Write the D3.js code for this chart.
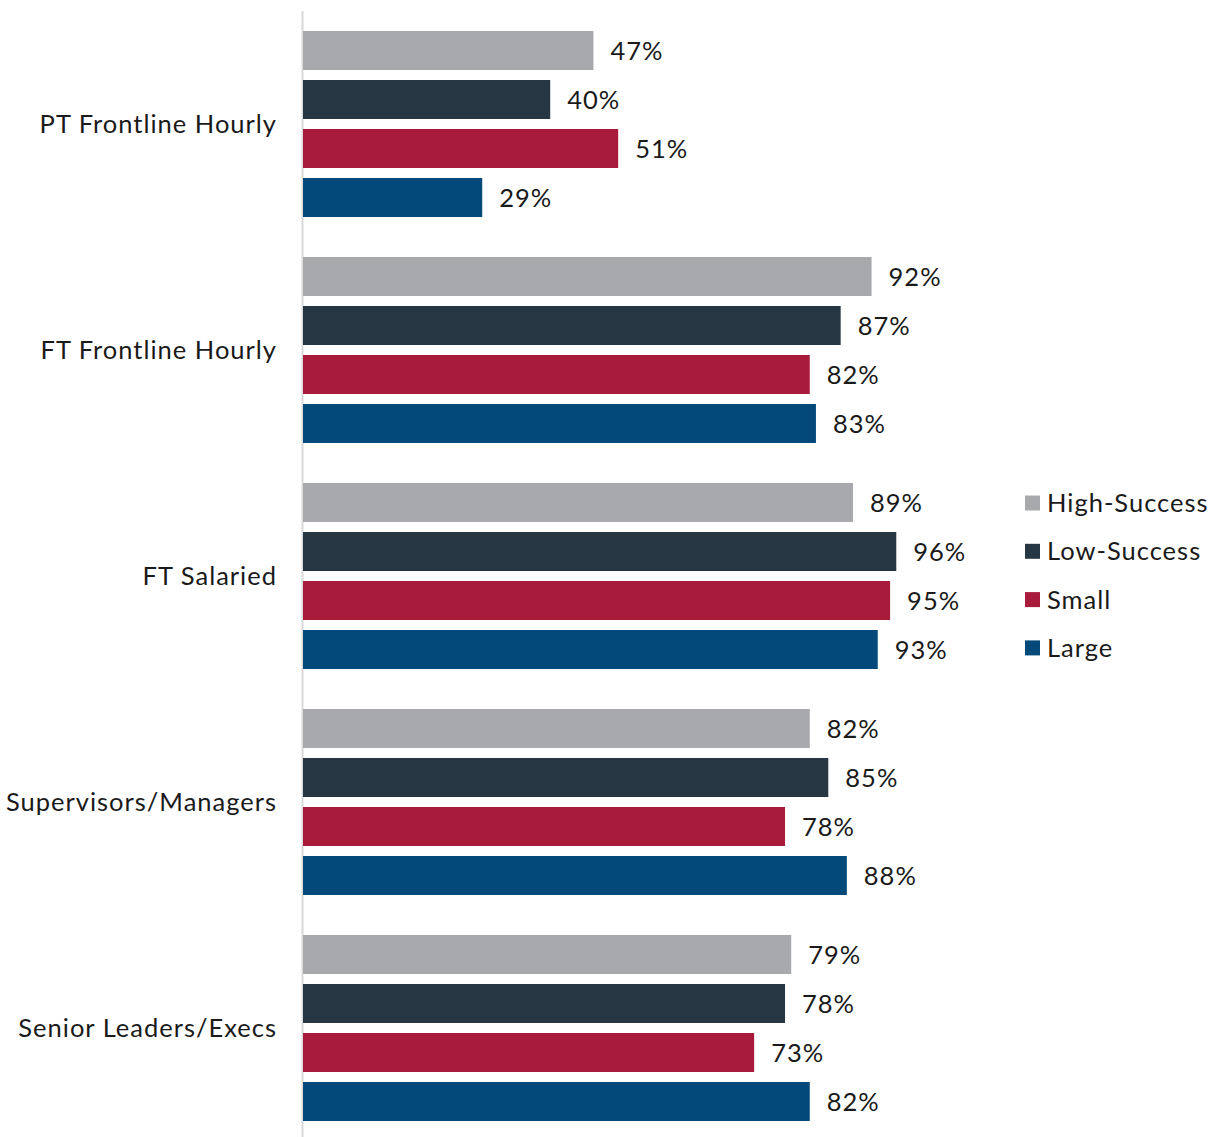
<!DOCTYPE html>
<html>
<head>
<meta charset="utf-8">
<script src="https://cdn.jsdelivr.net/npm/d3@7"></script>
<style>
  body { margin: 0; background: #fff; }
  svg text { font-family: Lato, "Noto Sans", sans-serif; fill: #1a1a1a; letter-spacing: 1px; }
</style>
</head>
<body>
<div id="chart"></div>
<script>
const categories = ["PT Frontline Hourly", "FT Frontline Hourly", "FT Salaried", "Supervisors/Managers", "Senior Leaders/Execs"];
const seriesNames = ["High-Success", "Low-Success", "Small", "Large"];
const seriesColors = ["#a7a9ac", "#263642", "#a91b3a", "#034a7b"];
// values per series, in category order
const highSuccess = [0.47, 0.92, 0.89, 0.82, 0.79];
const lowSuccess  = [0.40, 0.87, 0.96, 0.85, 0.78];
const small       = [0.51, 0.82, 0.95, 0.78, 0.73];
const large       = [0.29, 0.83, 0.93, 0.88, 0.82];
const seriesValues = [highSuccess, lowSuccess, small, large];

const width = 1211, height = 1137;
const svg = d3.select("#chart").append("svg")
    .attr("width", width)
    .attr("height", height);

const x = d3.scaleLinear().domain([0, 1]).range([303, 921]);

const y0 = d3.scaleBand()
    .domain(categories)
    .range([26, 26 + 226 * categories.length]);

const y1 = d3.scaleBand()
    .domain(seriesNames)
    .range([0, 196])
    .paddingInner(10 / 49)
    .paddingOuter(5 / 49);

const color = d3.scaleOrdinal().domain(seriesNames).range(seriesColors);

const rows = [];
categories.forEach(function (c, ci) {
    seriesNames.forEach(function (s, si) {
        rows.push({cat: c, series: s, value: seriesValues[si][ci]});
    });
});

// axis line
svg.append("line")
    .attr("x1", 302.5).attr("x2", 302.5)
    .attr("y1", 11).attr("y2", height)
    .attr("stroke", "#d9d9d9")
    .attr("stroke-width", 2);

const g = svg.selectAll(".group")
    .data(categories)
    .enter()
    .append("g")
    .attr("class", "group")
    .attr("transform", function (d) { return "translate(0," + y0(d) + ")"; });

g.selectAll("rect")
    .data(function (c) { return rows.filter(r => r.cat === c); })
    .enter()
    .append("rect")
    .attr("x", x(0))
    .attr("y", d => y1(d.series))
    .attr("width", d => x(d.value) - x(0))
    .attr("height", y1.bandwidth())
    .attr("fill", d => color(d.series));

g.selectAll(".val")
    .data(function (c) { return rows.filter(r => r.cat === c); })
    .enter()
    .append("text")
    .attr("class", "val")
    .attr("x", d => x(d.value) + 17)
    .attr("y", d => y1(d.series) + y1.bandwidth() / 2)
    .attr("dy", "0.38em")
    .style("font-size", "25.5px")
    .text(d => d3.format(".0%")(d.value));

// category labels
g.append("text")
    .attr("x", 277)
    .attr("y", 98)
    .attr("dy", "0.36em")
    .style("text-anchor", "end")
    .style("font-size", "25.5px")
    .text(d => d);

// legend
const legend = svg.selectAll(".legend")
    .data(seriesNames)
    .enter()
    .append("g")
    .attr("class", "legend")
    .attr("transform", (d, i) => "translate(1025," + (503 + i * 48.3) + ")");

legend.append("rect")
    .attr("x", 0).attr("y", -7.5)
    .attr("width", 15).attr("height", 15)
    .attr("fill", d => color(d));

legend.append("text")
    .attr("x", 22)
    .attr("y", 0)
    .attr("dy", "0.36em")
    .style("font-size", "25.5px")
    .text(d => d);
</script>
</body>
</html>
